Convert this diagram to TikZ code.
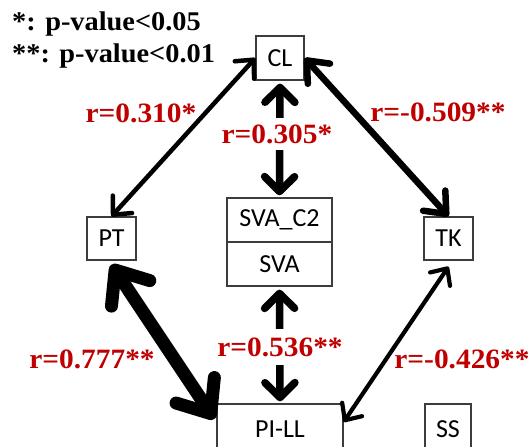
\documentclass[tikz,border=0pt]{standalone}
\usepackage{fontspec}
\usetikzlibrary{arrows.meta}
\newfontfamily\boxfont{Carlito}
\newfontfamily\labfont[FakeStretch=1.05]{Liberation Serif}
\definecolor{labred}{RGB}{192,0,0}
\definecolor{boxline}{RGB}{60,60,60}
\begin{document}
\begin{tikzpicture}[x=1pt,y=1pt,
  varbox/.style={draw=boxline,line width=1.3pt,fill=white,inner sep=0pt,
    font=\boxfont\fontsize{26}{28}\selectfont},
  rlab/.style={text=labred,font=\labfont\bfseries\fontsize{28}{30}\selectfont,inner sep=1pt},
  legend/.style={text=black,font=\labfont\bfseries\fontsize{27}{30}\selectfont,inner sep=0pt,anchor=west},
  barb/.style 2 args={line cap=round,line join=round,
    {Straight Barb[length=#1,width=#2,line cap=round,line join=round]}-{Straight Barb[length=#1,width=#2,line cap=round,line join=round]}},
]
\useasboundingbox (0,0) rectangle (531,447);
\clip (0,0) rectangle (531,447);
\fill[white] (0,0) rectangle (531,447);

% boxes
\node[varbox,minimum width=48pt,minimum height=44pt] (cl) at (280,389) {CL};
\node[varbox,minimum width=105pt,minimum height=44pt] (svac) at (279.5,227) {SVA\_C2};
\node[varbox,minimum width=105pt,minimum height=44pt] (sva) at (279.5,183) {SVA};
\node[varbox,minimum width=49pt,minimum height=43pt] (pt) at (111.5,208.5) {PT};
\node[varbox,minimum width=49pt,minimum height=43pt] (tk) at (448.5,208.5) {TK};
\node[varbox,minimum width=126pt,minimum height=50pt] (pill) at (280,18) {PI-LL};
\node[varbox,minimum width=46pt,minimum height=50pt] (ss) at (448,18) {SS};

% connectors
\draw[barb={14pt}{26pt},line width=4.5pt] (pt.north) -- (cl.west);
\draw[barb={18pt}{30pt},line width=6.5pt] (cl.east) -- (tk.north);
\draw[barb={15pt}{30pt},line width=7.5pt] ([yshift=-3pt]cl.south) -- ([yshift=2pt]svac.north);
\draw[barb={15pt}{30pt},line width=7.5pt] ([yshift=-3pt]sva.south) -- ([yshift=2pt]pill.north);
\draw[barb={28pt}{46pt},line width=13pt] ([yshift=-4pt]pt.south) -- ([shift={(-2pt,10pt)}]pill.west);
\draw[barb={13pt}{24pt},line width=4.2pt] ([yshift=-6pt]tk.south) -- ([yshift=7pt]pill.east);

% labels
\node[rlab] (l1) at (141,334) {r=0.310*};
\node[rlab] (l2) at (438,335) {r=-0.509**};
\node[rlab,fill=white,inner ysep=6pt] (l3) at (277,313) {r=0.305*};
\node[rlab,fill=white,inner ysep=8pt] (l4) at (280,100) {r=0.536**};
\node[rlab] (l5) at (92,88) {r=0.777**};
\node[rlab] (l6) at (462,88) {r=-0.426**};

% legend
\node[legend] (lg1) at (12,423) {*: p-value<0.05};
\node[legend] (lg2) at (12,391) {**: p-value<0.01};
\end{tikzpicture}
\end{document}
